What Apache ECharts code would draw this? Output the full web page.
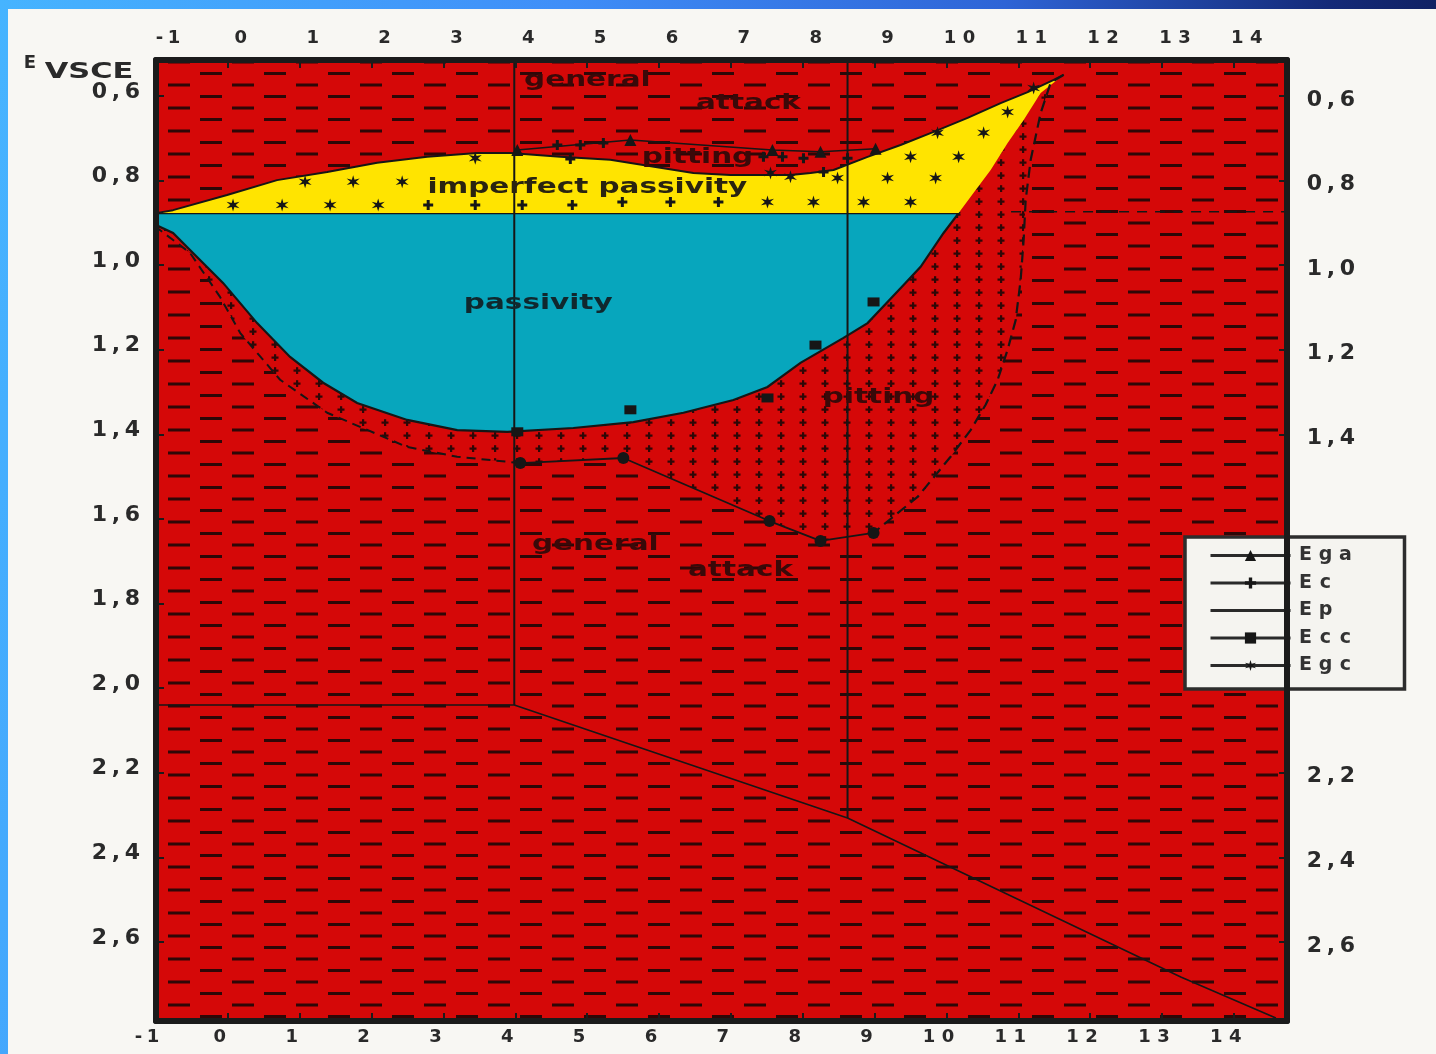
<!DOCTYPE html>
<html>
<head>
<meta charset="utf-8">
<title>Corrosion domains of steel: E vs pH</title>
<script src="https://cdn.jsdelivr.net/npm/echarts@6/dist/echarts.min.js"></script>
<style>
  html, body { margin: 0; padding: 0; width: 1436px; height: 1054px; overflow: hidden;
    background: linear-gradient(100deg, #46b4ff 0%, #3f8ef8 35%, #2e64d6 62%, #142a78 82%, #0a1440 100%); }
  #sheet { position: absolute; left: 8px; top: 9px; right: 0; bottom: 0; background: #f8f7f3; }
  #chart { position: absolute; left: 0; top: 0; width: 1436px; height: 1054px; }
</style>
</head>
<body>
<div id="sheet"></div>
<div id="chart"></div>
<script>
// ---------- axes ----------
const PH_MIN = -1, PH_MAX = 14.74;
const E_MIN = 0.515, E_MAX = 2.787;
const phTicks = [-1, 0, 1, 2, 3, 4, 5, 6, 7, 8, 9, 10, 11, 12, 13, 14];
const eTicksLeft = [0.6, 0.8, 1.0, 1.2, 1.4, 1.6, 1.8, 2.0, 2.2, 2.4, 2.6];
const eTicksRight = [0.6, 0.8, 1.0, 1.2, 1.4, 2.2, 2.4, 2.6];

// ---------- domain boundaries (pH, E) ----------
// Ep: upper limit of imperfect passivity
const epCurve = [[-1, 0.877], [-0.763, 0.870], [-0.011, 0.834], [0.685, 0.799], [1.382, 0.780],
  [2.078, 0.758], [2.774, 0.744], [3.471, 0.735], [3.930, 0.735], [4.627, 0.744], [5.323, 0.751],
  [6.019, 0.770], [6.479, 0.782], [6.994, 0.787], [7.412, 0.787], [7.830, 0.787], [8.109, 0.782],
  [8.429, 0.775], [8.903, 0.744], [9.362, 0.716], [9.822, 0.685], [10.295, 0.652], [10.755, 0.617],
  [11.131, 0.591], [11.493, 0.562], [11.632, 0.550]];
// right edge of imperfect passivity, from the apex down to the passivity limit
const imperfectEdge = [[11.312, 0.593], [11.075, 0.657], [10.852, 0.711], [10.616, 0.775],
  [10.379, 0.829], [10.170, 0.877]];
// lower edge of passivity, right to left
const passiveFloor = [[10.170, 0.877], [9.961, 0.924], [9.641, 1.004], [9.404, 1.047], [8.903, 1.137],
  [8.568, 1.172], [7.969, 1.231], [7.510, 1.288], [7.036, 1.319], [6.340, 1.349], [5.643, 1.371],
  [4.808, 1.385], [3.889, 1.394], [3.192, 1.390], [2.496, 1.366], [1.799, 1.326], [1.326, 1.278],
  [0.866, 1.217], [0.407, 1.137], [-0.067, 1.042], [-0.526, 0.964], [-0.763, 0.924], [-1, 0.905]];
// alkaline limit of pitting (dashed), apex downwards
const pittingRight = [[11.632, 0.550], [11.451, 0.569], [11.312, 0.640], [11.173, 0.751], [11.103, 0.846],
  [11.075, 0.940], [11.033, 1.035], [10.964, 1.130], [10.852, 1.200], [10.713, 1.271], [10.546, 1.330],
  [10.337, 1.390], [10.058, 1.453], [9.599, 1.548], [8.986, 1.633]];
// general attack limit below pitting (circles)
const attackLimit = [[4.070, 1.468], [5.504, 1.456], [7.538, 1.605], [8.248, 1.652], [8.986, 1.633]];
// acid side limit of the pitting band (dashed)
const bandFloor = [[4.070, 1.468], [3.192, 1.453], [2.496, 1.430], [1.382, 1.349], [0.727, 1.271],
  [0.170, 1.160], [-0.109, 1.075], [-0.526, 0.971], [-1, 0.910]];
// straight construction lines
const acidLine = [[3.986, E_MIN], [3.986, 2.040]];
const neutralLine = [[8.624, E_MIN], [8.624, 2.307]];
const baseLine = [[-1, 2.040], [3.986, 2.040], [8.624, 2.307], [13.262, 2.683], [14.585, 2.780]];
const passiveExtension = [[10.9, 0.874], [14.74, 0.874]];

// ---------- measured potentials ----------
const ega = [[4.028, 0.728], [5.602, 0.704], [7.579, 0.728], [8.248, 0.732], [9.014, 0.725]];
const ec = [[2.788, 0.858], [3.443, 0.858], [4.097, 0.858], [4.794, 0.858], [5.490, 0.851], [6.159, 0.851],
  [6.827, 0.851], [4.585, 0.716], [4.905, 0.716], [5.226, 0.711], [4.766, 0.749], [7.454, 0.744],
  [7.719, 0.744], [8.011, 0.747], [8.290, 0.780], [8.624, 0.747]];
const ecc = [[4.028, 1.394], [5.602, 1.342], [7.510, 1.314], [8.178, 1.189], [8.986, 1.087]];
const egc = [[0.072, 0.858], [0.755, 0.858], [1.423, 0.858], [2.092, 0.858], [1.075, 0.803], [1.744, 0.803],
  [2.426, 0.803], [3.443, 0.747], [7.510, 0.851], [8.150, 0.851], [8.847, 0.851], [9.501, 0.851],
  [7.552, 0.782], [7.830, 0.791], [8.485, 0.794], [9.181, 0.794], [9.850, 0.794], [9.501, 0.744],
  [10.170, 0.744], [9.877, 0.687], [10.518, 0.687], [10.852, 0.638], [11.214, 0.581]];

// ---------- domain names ----------
const noteText = ['general', 'attack', 'pitting', 'imperfect passivity', 'passivity', 'pitting', 'general', 'attack'];
const notePos = [[5.003, 0.562], [7.245, 0.617], [6.535, 0.744], [5.003, 0.815], [4.320, 1.089],
  [9.056, 1.312], [5.114, 1.661], [7.134, 1.721]];

// ---------- styling ----------
const FONT = '"DejaVu Sans", "Liberation Sans", sans-serif';
const RED = '#d50808', YELLOW = '#ffe400', CYAN = '#07a6bd', INK = '#161616', HATCH = '#2e0707';
const noteInk = ['#3a0909', '#3a0909', '#3a0909', '#2a2410', '#10282e', '#3a0909', '#3a0909', '#3a0909'];

function tile(w, h, paint) {
  const c = document.createElement('canvas');
  c.width = w; c.height = h;
  paint(c.getContext('2d'));
  return c;
}
// red field with staggered short dashes
const dashTile = tile(64, 23, g => {
  g.fillStyle = RED; g.fillRect(0, 0, 64, 23);
  g.fillStyle = HATCH;
  g.fillRect(8, 3, 22, 3);
  g.fillRect(40, 14.5, 22, 3);
});
// red field with a grid of small crosses (pitting)
const crossTile = tile(22, 13, g => {
  g.fillStyle = RED; g.fillRect(0, 0, 22, 13);
  g.fillStyle = HATCH;
  g.fillRect(7.5, 5.5, 7, 2.2);
  g.fillRect(10, 3.2, 2.2, 6.8);
});
const dashFill = { image: dashTile, repeat: 'repeat' };
const crossFill = { image: crossTile, repeat: 'repeat' };

// character-by-character layout that widens the lettering a little
function spaced(str, key) {
  return str.split('').map(ch => ch === ',' ? '{p|,}' : ch === '-' ? '{m|-}' : '{' + key + '|' + ch + '}').join('');
}
function richSet(size, box, color, lh) {
  const base = { fontFamily: FONT, fontWeight: 'bold', fontSize: size, color: color, align: 'center', lineHeight: lh || size + 3 };
  return {
    d: Object.assign({ width: box }, base),
    p: Object.assign({ width: Math.round(box * 0.32) }, base),
    m: Object.assign({ width: Math.round(box * 0.5) }, base)
  };
}
const eLabel = v => v.toFixed(1).replace('.', ',');

function region(name, pts, fill, z, stroke) {
  return {
    type: 'custom', name: name, z: z, silent: true,
    coordinateSystem: 'cartesian2d',
    data: [pts[0]],
    renderItem: (params, api) => ({
      type: 'polygon',
      shape: { points: pts.map(p => api.coord(p)) },
      style: { fill: fill, stroke: stroke || null, lineWidth: stroke ? 2.2 : 0 }
    })
  };
}
function polyline(name, pts, width, dash, z) {
  return {
    type: 'line', name: name, data: pts, z: z || 4, silent: true, symbol: 'none',
    lineStyle: { color: INK, width: width, type: dash || 'solid' }
  };
}

const field = [[PH_MIN, E_MIN], [PH_MAX, E_MIN], [PH_MAX, E_MAX], [PH_MIN, E_MAX]];
const imperfectZone = epCurve.concat(imperfectEdge);
const passiveZone = [[-1, 0.877]].concat(passiveFloor);
const pittingZone = passiveFloor.slice().reverse()
  .concat(imperfectEdge.slice(0, -1).reverse())
  .concat(pittingRight)
  .concat(attackLimit.slice(0, -1).reverse())
  .concat(bandFloor.slice(1));

const STAR = 'path://M10 0L11.8 6.9L18.66 5L13.6 10L18.66 15L11.8 13.1L10 20L8.2 13.1L1.34 15L6.4 10L1.34 5L8.2 6.9Z';
const PLUS = 'path://M3.5 0h3v3.5h3.5v3h-3.5v3.5h-3v-3.5h-3.5v-3h3.5z';

const chart = echarts.init(document.getElementById('chart'), null, { renderer: 'canvas', width: 1436, height: 1054 });

const axisLineStyle = { show: true, onZero: false, lineStyle: { color: '#1b1b1b', width: 6 } };
const xCommon = {
  type: 'value', min: PH_MIN, max: PH_MAX, interval: 1, z: 10,
  axisLine: axisLineStyle, splitLine: { show: false },
  axisTick: { show: true, inside: true, length: 8, customValues: phTicks, lineStyle: { color: '#1b1b1b', width: 2 } }
};
const yCommon = {
  type: 'value', min: E_MIN, max: E_MAX, inverse: true, z: 10,
  axisLine: axisLineStyle, splitLine: { show: false }
};

chart.setOption({
  animation: false,
  backgroundColor: 'transparent',
  grid: { left: 156, right: 149, top: 60, bottom: 33 },
  graphic: [
    { type: 'text', x: 30, y: 63, style: { text: 'E', font: 'bold 18px ' + FONT, fill: '#2a2a2a', align: 'center', verticalAlign: 'middle' } },
    { type: 'text', x: 89, y: 73, scaleX: 1.45, style: { text: 'VSCE', font: 'bold 21px ' + FONT, fill: '#2a2a2a', align: 'center', verticalAlign: 'middle' } }
  ],
  xAxis: [
    Object.assign({}, xCommon, { position: 'top',
      axisLabel: { customValues: phTicks, margin: 11, padding: [0, 0, 0, 26], formatter: v => spaced(String(v), 'd'), rich: richSet(18, 19, '#2a2a2a') } }),
    Object.assign({}, xCommon, { position: 'bottom',
      axisLabel: { customValues: phTicks, margin: 6, padding: [0, 16, 0, 0], formatter: v => spaced(String(v), 'd'), rich: richSet(18, 19, '#2a2a2a') } })
  ],
  yAxis: [
    Object.assign({}, yCommon, { position: 'left',
      axisTick: { show: true, inside: true, length: 8, customValues: eTicksLeft, lineStyle: { color: '#1b1b1b', width: 2 } },
      axisLabel: { customValues: eTicksLeft, margin: 11, padding: [0, 0, 8, 0], formatter: v => spaced(eLabel(v), 'd'), rich: richSet(22, 25, '#2a2a2a') } }),
    Object.assign({}, yCommon, { position: 'right',
      axisTick: { show: true, inside: true, length: 8, customValues: eTicksRight, lineStyle: { color: '#1b1b1b', width: 2 } },
      axisLabel: { customValues: eTicksRight, margin: 15, padding: [8, 0, 0, 0], formatter: v => spaced(eLabel(v), 'd'), rich: richSet(22, 25, '#2a2a2a') } })
  ],
  legend: {
    data: ['Ega', 'Ec', { name: 'Ep', itemStyle: { color: 'rgba(0,0,0,0)', borderWidth: 0, opacity: 0 } }, 'Ecc', 'Egc'],
    orient: 'vertical', left: 1185, top: 537,
    padding: [9, 49, 14, 24],
    itemWidth: 80, itemHeight: 14, itemGap: 8.5,
    selectedMode: false,
    backgroundColor: '#f5f4f0', borderColor: '#2d2d2d', borderWidth: 3.5, borderRadius: 0,
    lineStyle: { color: '#2a2a2a', width: 3 },
    formatter: name => spaced(name, 'd'),
    textStyle: { rich: richSet(19, 20, '#333333', 16) }
  },
  series: [
    region('general attack field', field, dashFill, 1),
    region('pitting', pittingZone, crossFill, 2),
    region('passivity', passiveZone, CYAN, 3, INK),
    region('imperfect passivity', imperfectZone, YELLOW, 3),

    polyline('pH 4', acidLine, 2),
    polyline('pH 8.6', neutralLine, 2),
    polyline('base line', baseLine, 1.6),
    polyline('passive extension', passiveExtension, 1.5, [10, 8]),
    polyline('pitting alkaline limit', pittingRight, 2.2, [11, 6]),
    polyline('pitting acid limit', bandFloor, 2, [9, 6]),
    {
      type: 'line', name: 'attack limit', data: attackLimit, z: 5, silent: true,
      symbol: 'circle', symbolSize: 12,
      itemStyle: { color: INK }, lineStyle: { color: INK, width: 1.8 }
    },

    {
      type: 'line', name: 'Ega', data: ega, z: 5, silent: true,
      symbol: 'triangle', symbolSize: 12,
      itemStyle: { color: INK }, lineStyle: { color: INK, width: 1.5 }
    },
    {
      type: 'line', name: 'Ec', data: ec, z: 5, silent: true,
      symbol: PLUS, symbolSize: 10,
      itemStyle: { color: INK }, lineStyle: { color: INK, width: 0 }
    },
    {
      type: 'line', name: 'Ep', data: epCurve, z: 4, silent: true,
      symbol: 'none', itemStyle: { color: INK }, lineStyle: { color: INK, width: 2 }
    },
    {
      type: 'line', name: 'Ecc', data: ecc, z: 5, silent: true,
      symbol: 'rect', symbolSize: [12, 9],
      itemStyle: { color: INK }, lineStyle: { color: INK, width: 0 }
    },
    {
      type: 'line', name: 'Egc', data: egc, z: 5, silent: true,
      symbol: STAR, symbolSize: 13,
      itemStyle: { color: INK }, lineStyle: { color: INK, width: 0 }
    },

    {
      type: 'custom', name: 'domain names', z: 6, silent: true,
      coordinateSystem: 'cartesian2d',
      data: notePos,
      renderItem: (params, api) => {
        const p = api.coord([api.value(0), api.value(1)]);
        return {
          type: 'text', x: p[0], y: p[1], scaleX: 1.34,
          style: { text: noteText[params.dataIndex], fill: noteInk[params.dataIndex],
            font: 'bold 22px ' + FONT, align: 'center', verticalAlign: 'middle' }
        };
      }
    }
  ]
});
</script>
</body>
</html>
